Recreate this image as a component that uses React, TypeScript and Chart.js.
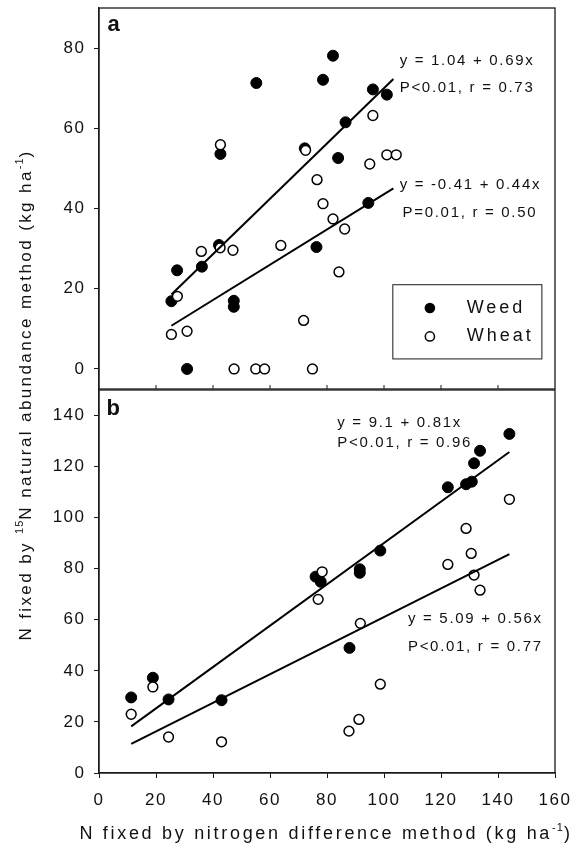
import React, { useEffect, useRef } from 'react';
import { Chart, registerables } from 'chart.js';

Chart.register(...registerables);

const FAMILY = '"Liberation Sans", Arial, Helvetica, sans-serif';
const INK = '#111111';

// shared x axis ticks
const xTicks = [0, 20, 40, 60, 80, 100, 120, 140, 160];
const yTicksA = [0, 20, 40, 60, 80];
const yTicksB = [0, 20, 40, 60, 80, 100, 120, 140];

// ---------- panel a ----------
const weedAx = [55.2, 78.6, 82.1, 42.6, 72.2, 83.9, 96.1, 101.0, 86.5, 94.5, 76.3, 42.1, 27.4, 36.1, 25.4, 47.3, 47.3, 30.9];
const weedAy = [71.3, 72.1, 78.1, 53.6, 55.0, 52.6, 69.7, 68.4, 61.5, 41.4, 30.4, 30.9, 24.6, 25.5, 16.9, 17.0, 15.5, 0];
const wheatAx = [42.6, 72.5, 76.5, 96.1, 95.0, 101.0, 104.3, 78.6, 82.1, 86.2, 84.2, 63.8, 35.9, 42.5, 47.0, 27.5, 71.8, 25.4, 30.9, 47.4, 55.0, 58.1, 74.9];
const wheatAy = [55.9, 54.5, 47.2, 63.2, 51.1, 53.4, 53.4, 41.2, 37.4, 34.9, 24.2, 30.8, 29.3, 30.2, 29.6, 18.1, 12.1, 8.6, 9.4, 0, 0, 0, 0];
const fitWeedA = [1.04, 0.69];
const fitWheatA = [-0.41, 0.44];
const fitRangeA = [25.4, 103.3];

// ---------- panel b ----------
const weedBx = [11.3, 18.9, 24.4, 43.0, 76.0, 77.8, 87.9, 91.5, 91.5, 98.7, 122.4, 128.8, 130.8, 131.6, 133.7, 144.0];
const weedBy = [29.6, 37.3, 28.8, 28.5, 76.9, 74.9, 49.0, 79.8, 78.4, 87.1, 111.9, 113.1, 114.1, 121.3, 126.2, 132.8];
const wheatBx = [11.3, 18.9, 24.4, 43.0, 78.3, 76.9, 91.7, 87.7, 91.2, 98.7, 122.4, 128.8, 130.6, 131.6, 133.7, 144.0];
const wheatBy = [23.0, 33.7, 14.1, 12.2, 78.8, 68.0, 58.6, 16.4, 21.0, 34.8, 81.7, 95.8, 86.0, 77.5, 71.6, 107.2];
const fitWeedB = [9.1, 0.81];
const fitWheatB = [5.09, 0.56];
const fitRangeB = [11.3, 144.0];

type Note = { text: string; x: number; y: number; bold?: boolean };
const notesA: Note[] = [
  { text: 'a', x: 3.0, y: 85.9, bold: true },
  { text: 'y = 1.04 + 0.69x', x: 105.5, y: 76.9 },
  { text: 'P<0.01, r = 0.73', x: 105.5, y: 70.1 },
  { text: 'y = -0.41 + 0.44x', x: 105.5, y: 45.8 },
  { text: 'P=0.01, r = 0.50', x: 106.5, y: 39.0 },
];
const notesB: Note[] = [
  { text: 'b', x: 2.6, y: 142.6, bold: true },
  { text: 'y = 9.1 + 0.81x', x: 83.6, y: 137.1 },
  { text: 'P<0.01, r = 0.96', x: 83.6, y: 129.3 },
  { text: 'y = 5.09 + 0.56x', x: 108.4, y: 60.2 },
  { text: 'P<0.01, r = 0.77', x: 108.4, y: 49.4 },
];
const legendLabels = ['Weed', 'Wheat'];
const legendBoxA = { x0: 103.1, x1: 155.4, y0: 21.0, y1: 2.5, markerX: 116.1, textX: 129.0, rows: [15.2, 8.1] };

const pts = (xs: number[], ys: number[]) => xs.map((x, i) => ({ x, y: ys[i] }));
const fitLine = (c: number[], r: number[]) => r.map((x) => ({ x, y: c[0] + c[1] * x }));

const tickFont = { family: FAMILY, size: 17 };

function makePlugin(notes: Note[], withLegend: boolean, innerBottomTicks: boolean) {
  return {
    id: 'decor',
    beforeDraw(chart: any) {
      (chart.ctx as any).letterSpacing = '1.5px';
    },
    afterDatasetsDraw(chart: any) {
      const { ctx, chartArea: ca, scales } = chart;
      const xs = scales.x;
      const ys = scales.y;
      ctx.save();
      (ctx as any).letterSpacing = '0px';
      ctx.strokeStyle = '#1a1a1a';
      ctx.lineWidth = 1.3;
      ctx.strokeRect(ca.left, ca.top, ca.right - ca.left, ca.bottom - ca.top);
      if (innerBottomTicks) {
        ctx.lineWidth = 1;
        xTicks.slice(1, -1).forEach((v) => {
          const px = xs.getPixelForValue(v);
          ctx.beginPath();
          ctx.moveTo(px, ca.bottom);
          ctx.lineTo(px, ca.bottom - 4);
          ctx.stroke();
        });
      }
      ctx.fillStyle = INK;
      ctx.textBaseline = 'middle';
      ctx.textAlign = 'left';
      notes.forEach((n) => {
        ctx.font = n.bold ? `bold 22px ${FAMILY}` : `15px ${FAMILY}`;
        (ctx as any).letterSpacing = n.bold ? '0px' : '1.7px';
        ctx.fillText(n.text, xs.getPixelForValue(n.x), ys.getPixelForValue(n.y));
      });
      if (withLegend) {
        const b = legendBoxA;
        const x0 = xs.getPixelForValue(b.x0);
        const x1 = xs.getPixelForValue(b.x1);
        const y0 = ys.getPixelForValue(b.y0);
        const y1 = ys.getPixelForValue(b.y1);
        ctx.lineWidth = 1;
        ctx.strokeStyle = '#1a1a1a';
        ctx.strokeRect(x0, y0, x1 - x0, y1 - y0);
        legendLabels.forEach((lab, i) => {
          const my = ys.getPixelForValue(b.rows[i]);
          const mx = xs.getPixelForValue(b.markerX);
          ctx.beginPath();
          ctx.arc(mx, my, i === 0 ? 5.3 : 4.6, 0, Math.PI * 2);
          if (i === 0) {
            ctx.fillStyle = '#000';
            ctx.fill();
          } else {
            ctx.fillStyle = '#fff';
            ctx.fill();
            ctx.lineWidth = 1.5;
            ctx.strokeStyle = '#000';
            ctx.stroke();
          }
          ctx.fillStyle = INK;
          ctx.font = `18px ${FAMILY}`;
          (ctx as any).letterSpacing = '3px';
          ctx.fillText(lab, xs.getPixelForValue(b.textX), my);
        });
      }
      ctx.restore();
    },
  };
}

function datasets(wx: number[], wy: number[], hx: number[], hy: number[], f1: number[], f2: number[], r: number[]) {
  return [
    { label: 'Weed', data: pts(wx, wy), pointRadius: 5.5, pointBackgroundColor: '#000', pointBorderColor: '#000', pointBorderWidth: 1, showLine: false, order: 3 },
    { label: 'Wheat', data: pts(hx, hy), pointRadius: 4.9, pointBackgroundColor: '#fff', pointBorderColor: '#000', pointBorderWidth: 1.5, showLine: false, order: 2 },
    { label: 'fit weed', data: fitLine(f1, r), showLine: true, borderColor: '#000', borderWidth: 2, pointRadius: 0, fill: false, order: 1 },
    { label: 'fit wheat', data: fitLine(f2, r), showLine: true, borderColor: '#000', borderWidth: 2, pointRadius: 0, fill: false, order: 1 },
  ];
}

function yScale(min: number, max: number, ticks: number[]) {
  return {
    type: 'linear',
    min,
    max,
    afterBuildTicks: (s: any) => {
      s.ticks = ticks.map((v) => ({ value: v }));
    },
    afterFit: (s: any) => {
      s.width = 99;
      s.paddingTop = 0;
      s.paddingBottom = 0;
    },
    grid: { drawOnChartArea: false, drawTicks: true, tickLength: 5, color: '#1a1a1a', lineWidth: 1 },
    border: { display: true, color: '#1a1a1a', width: 1.3 },
    ticks: { font: tickFont, color: INK, padding: 8.5 },
  };
}

function configA(): any {
  return {
    type: 'scatter',
    data: { datasets: datasets(weedAx, weedAy, wheatAx, wheatAy, fitWeedA, fitWheatA, fitRangeA) },
    options: {
      animation: false,
      responsive: false,
      maintainAspectRatio: false,
      events: [],
      layout: { padding: { left: 0, right: 18, top: 8, bottom: 11 } },
      plugins: { legend: { display: false }, tooltip: { enabled: false } },
      scales: {
        x: { type: 'linear', min: 0, max: 160, display: false },
        y: yScale(-5, 90, yTicksA),
      },
    },
    plugins: [makePlugin(notesA, true, true)],
  };
}

function configB(): any {
  return {
    type: 'scatter',
    data: { datasets: datasets(weedBx, weedBy, wheatBx, wheatBy, fitWeedB, fitWheatB, fitRangeB) },
    options: {
      animation: false,
      responsive: false,
      maintainAspectRatio: false,
      events: [],
      layout: { padding: { left: 0, right: 18, top: 10, bottom: 32 } },
      plugins: { legend: { display: false }, tooltip: { enabled: false } },
      scales: {
        x: {
          type: 'linear',
          min: 0,
          max: 160,
          afterBuildTicks: (s: any) => {
            s.ticks = xTicks.map((v) => ({ value: v }));
          },
          afterFit: (s: any) => {
            s.height = 44;
            s.paddingLeft = 0;
            s.paddingRight = 0;
          },
          grid: { drawOnChartArea: false, drawTicks: true, tickLength: 5, color: '#1a1a1a', lineWidth: 1 },
          border: { display: true, color: '#1a1a1a', width: 1.3 },
          ticks: { font: tickFont, color: INK, padding: 12, autoSkip: false, maxRotation: 0 },
        },
        y: yScale(0, 150, yTicksB),
      },
    },
    plugins: [makePlugin(notesB, false, false)],
  };
}

function Panel({ top, height, make }: { top: number; height: number; make: () => any }) {
  const ref = useRef<HTMLCanvasElement>(null);
  useEffect(() => {
    const chart = new Chart(ref.current as HTMLCanvasElement, make());
    return () => chart.destroy();
  }, []);
  return (
    <canvas
      ref={ref}
      width={573}
      height={height}
      style={{ position: 'absolute', left: 0, top, width: 573, height, display: 'block' }}
    />
  );
}

const titleStyle: React.CSSProperties = {
  position: 'absolute',
  width: 640,
  height: 24,
  lineHeight: '24px',
  textAlign: 'center',
  fontFamily: FAMILY,
  color: INK,
  whiteSpace: 'nowrap',
};
const supStyle: React.CSSProperties = { fontSize: 11, position: 'relative', top: -8, letterSpacing: '1px' };

export default function App() {
  return (
    <div style={{ position: 'absolute', left: 0, top: 0, width: 573, height: 849, overflow: 'hidden', background: '#fff' }}>
      <Panel top={0} height={400} make={configA} />
      <Panel top={380} height={469} make={configB} />
      <div
        style={{
          ...titleStyle,
          left: 26 - 320,
          top: 395 - 12,
          fontSize: 17,
          letterSpacing: '2.4px',
          transform: 'rotate(-90deg)',
        }}
      >
        N fixed by <span style={supStyle}>15</span>N natural abundance method (kg ha<span style={supStyle}>-1</span>)
      </div>
      <div style={{ ...titleStyle, left: 326 - 320, top: 833 - 12, fontSize: 18, letterSpacing: '2.7px' }}>
        N fixed by nitrogen difference method (kg ha<span style={supStyle}>-1</span>)
      </div>
    </div>
  );
}
